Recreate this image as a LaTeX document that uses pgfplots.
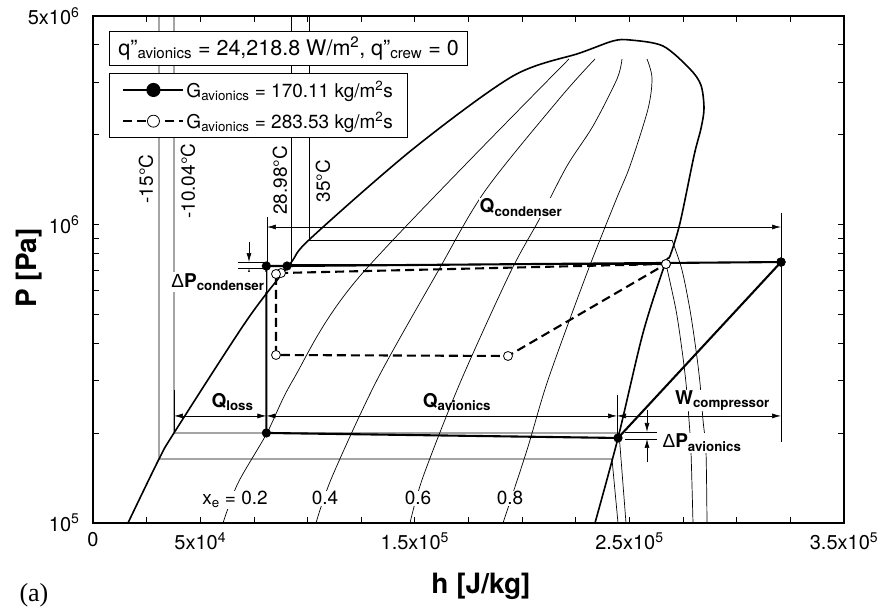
\documentclass[border=0pt]{standalone}
\usepackage{fontspec}
\setmainfont{TeX Gyre Heros}
\newfontfamily\seriffont{Liberation Serif}
\newfontfamily\symfont{Liberation Sans}
\usepackage{pgfplots}
\pgfplotsset{compat=1.18}
\usetikzlibrary{arrows.meta}
\newcommand{\sub}[1]{\textsubscript{#1}}
\newcommand{\sps}[1]{\textsuperscript{#1}}
\newcommand{\DP}{{\symfont\mdseries Δ}P}
\tikzset{
  dim/.style={black, line width=0.7pt, {Latex[length=9pt,width=5pt]}-{Latex[length=9pt,width=5pt]}},
  arr/.style={black, line width=0.7pt, -{Latex[length=9pt,width=5pt]}},
  ext/.style={black, line width=0.7pt},
}
\pgfplotsset{thinl/.style={black, line width=0.7pt, forget plot}}
\begin{document}
\begin{tikzpicture}
\useasboundingbox (-93pt,-85pt) rectangle (789pt,523pt);
\begin{axis}[
  at={(0pt,0pt)}, anchor=south west,
  scale only axis, width=751pt, height=507pt,
  clip=false,
  xmin=0, xmax=350000, ymode=log, ymin=1e5, ymax=5e6,
  axis line style={line width=1.3pt},
  tick style={black, line width=0.8pt},
  minor tick style={black, line width=0.8pt},
  tick align=inside,
  major tick length=6pt, minor tick length=6pt,
  scaled x ticks=false,
  xtick={0,25000,...,350000},
  xticklabels={0,,5x10\sps{4},,,,1.5x10\sps{5},,,,2.5x10\sps{5},,,,3.5x10\sps{5}},
  ytick={1e5,1e6,5e6},
  yticklabels={10\sps{5},10\sps{6},5x10\sps{6}},
  minor ytick={2e5,3e5,4e5,5e5,6e5,7e5,8e5,9e5,2e6,3e6,4e6},
  ticklabel style={font=\fontsize{20}{24}\selectfont},
  xticklabel style={yshift=-6pt},
  yticklabel style={xshift=-10pt},
  legend style={at={(rel axis cs:0.0213,0.8876)}, anchor=north west, draw=black, line width=0.8pt, fill=white,
    font=\fontsize{19}{22}\selectfont, inner xsep=13pt, inner ysep=6pt, row sep=10pt, cells={anchor=west}},
  legend image code/.code={\draw[#1, mark=none] (0pt,0pt) -- (60pt,0pt); \draw[#1, mark size=6pt] plot coordinates {(30pt,0pt)};},
]
% saturation dome
\addplot[black, line width=1.6pt, smooth, forget plot] coordinates {
(16311,1e5) (30759,1.638e5) (37749,2.003e5) (71770,4.788e5) (91810,7.378e5) (101131,8.949e5)
(149133,1.792e6) (195737,3.147e6) (226961,3.758e6) (242341,4.123e6) (250263,4.155e6) (265643,3.967e6)
(278226,3.321e6) (283352,2.93e6) (284750,2.45e6) (283352,2.10e6) (280090,1.70e6) (273565,1.012e6)
(268905,7.847e5) (266575,7.378e5) (256322,4.332e5) (244671,1.927e5) (233952,1e5)};
% quality lines
\addplot[thinl, smooth] coordinates {(221835,3.589e6) (124433,6.725e5) (93208,3.014e5) (81091,2.003e5) (67576,1.361e5) (60585,1e5)};
\addplot[thinl, smooth] coordinates {(233952,3.589e6) (217641,2.656e6) (182688,1.296e6) (160318,6.882e5) (132355,3.014e5) (111384,1.426e5) (103927,1e5)};
\addplot[thinl, smooth] coordinates {(246535,3.589e6) (244205,3.075e6) (233020,2.139e6) (220903,1.572e6) (208320,1.052e6) (194339,6.882e5) (171037,2.945e5) (153793,1.426e5) (147735,1e5)};
\addplot[thinl, smooth] coordinates {(258186,3.589e6) (260516,3.099e6) (258652,2.439e6) (250263,1.572e6) (243739,1.209e6) (230224,6.882e5) (212048,3.014e5) (202261,1.756e5) (191076,1e5)};
% isotherms
\addplot[thinl] coordinates {(30759,5e6) (30759,1.638e5) (241875,1.638e5) (244671,1e5)};
\addplot[thinl] coordinates {(37749,5e6) (37749,2.003e5) (245137,2.003e5) (248399,1e5)};
\addplot[thinl] coordinates {(92276,5e6) (92276,7.378e5) (267041,7.378e5)};
\addplot[thinl, smooth] coordinates {(267041,7.378e5) (271701,5.172e5) (274498,3.799e5) (276362,2.945e5) (277760,2.214e5) (278692,1.729e5) (279624,1e5)};
\addplot[thinl] coordinates {(100665,5e6) (100665,8.878e5) (269837,8.878e5)};
\addplot[thinl, smooth] coordinates {(269837,8.878e5) (274498,7.042e5) (278226,5.172e5) (281022,3.799e5) (282886,2.945e5) (284284,2.214e5) (285683,1.729e5) (286149,1e5)};
% dimension lines
\draw[ext] (axis cs:81091,1.060e6) -- (axis cs:81091,7.264e5);
\draw[ext] (axis cs:320636,1.094e6) -- (axis cs:320636,1.868e5);
\draw[dim] (axis cs:81091,9.815e5) -- (axis cs:320636,9.815e5);
\draw[ext] (axis cs:37749,2.791e5) -- (axis cs:37749,2.003e5);
\draw[ext] (axis cs:244205,2.685e5) -- (axis cs:244205,1.927e5);
\draw[dim] (axis cs:37749,2.284e5) -- (axis cs:80800,2.284e5);
\draw[dim] (axis cs:80800,2.284e5) -- (axis cs:244205,2.284e5);
\draw[dim] (axis cs:244205,2.284e5) -- (axis cs:320636,2.284e5);
\draw[ext] (axis cs:67576,7.49e5) -- (axis cs:80160,7.49e5);
\draw[ext] (axis cs:67576,7.153e5) -- (axis cs:80160,7.153e5);
\draw[arr] (axis cs:72702,8.744e5) -- (axis cs:72702,7.49e5);
\draw[arr] (axis cs:72702,6.422e5) -- (axis cs:72702,7.153e5);
\draw[ext] (axis cs:247933,2.018e5) -- (axis cs:262847,2.018e5);
\draw[ext] (axis cs:247933,1.912e5) -- (axis cs:262847,1.912e5);
\draw[arr] (axis cs:258186,2.391e5) -- (axis cs:258186,2.018e5);
\draw[arr] (axis cs:258186,1.601e5) -- (axis cs:258186,1.912e5);
% cycles
\addplot[black, line width=2.1pt, mark=*, mark size=3.5pt, mark options={solid, fill=black}] coordinates {
(320636,7.49e5) (90412,7.264e5) (80800,7.264e5) (80800,2.003e5) (244671,1.927e5) (320636,7.49e5)};
\addlegendentry{G\sub{avionics} = 170.11 kg/m\sps{2}s}
\addplot[black, line width=2.1pt, dash pattern=on 9pt off 5pt, mark=*, mark size=4.5pt, mark options={solid, fill=white, line width=0.8pt}] coordinates {
(267041,7.378e5) (87616,6.882e5) (85285,6.830e5) (85285,3.656e5) (193407,3.628e5) (267041,7.378e5)};
\addlegendentry{G\sub{avionics} = 283.53 kg/m\sps{2}s}
% labels
\node[font=\bfseries\fontsize{19}{22}\selectfont, fill=white, inner sep=1pt, anchor=base] at (axis cs:199465,1.094e6) {Q\sub{condenser}};
\node[font=\bfseries\fontsize{19}{22}\selectfont, inner sep=1pt, anchor=base] at (axis cs:65013,2.447e5) {Q\sub{loss}};
\node[font=\bfseries\fontsize{19}{22}\selectfont, inner sep=1pt, anchor=base] at (axis cs:169639,2.447e5) {Q\sub{avionics}};
\node[font=\bfseries\fontsize{19}{22}\selectfont, fill=white, inner sep=1pt, anchor=base] at (axis cs:293372,2.486e5) {W\sub{compressor}};
\node[font=\bfseries\fontsize{19}{22}\selectfont, fill=white, inner sep=1pt, anchor=base] at (axis cs:283818,1.784e5) {\DP\sub{avionics}};
\node[font=\bfseries\fontsize{19}{22}\selectfont, fill=white, inner sep=1pt, anchor=base] at (axis cs:58255,6.177e5) {\DP\sub{condenser}};
\node[font=\fontsize{19}{22}\selectfont, fill=white, inner sep=1pt, anchor=base] at (axis cs:66177,1.149e5) {x\sub{e} = 0.2};
\node[font=\fontsize{19}{22}\selectfont, fill=white, inner sep=1pt, anchor=base] at (axis cs:108121,1.149e5) {0.4};
\node[font=\fontsize{19}{22}\selectfont, fill=white, inner sep=1pt, anchor=base] at (axis cs:151463,1.149e5) {0.6};
\node[font=\fontsize{19}{22}\selectfont, fill=white, inner sep=1pt, anchor=base] at (axis cs:194339,1.149e5) {0.8};
\node[font=\fontsize{19}{22}\selectfont, rotate=90, anchor=base] at (axis cs:27962,1.421e6) {-15°C};
\node[font=\fontsize{19}{22}\selectfont, rotate=90, anchor=base] at (axis cs:47536,1.397e6) {-10.04°C};
\node[font=\fontsize{19}{22}\selectfont, rotate=90, anchor=base] at (axis cs:90412,1.405e6) {28.98°C};
\node[font=\fontsize{19}{22}\selectfont, rotate=90, anchor=base] at (axis cs:110451,1.40e6) {35°C};
\node[font=\fontsize{21.5}{25}\selectfont, draw=black, line width=0.8pt, fill=white, anchor=north west, inner xsep=9pt, inner ysep=5.5pt] at (rel axis cs:0.0213,0.9704) {q”\sub{avionics} = 24,218.8 W/m\sps{2}, q”\sub{crew} = 0};
% axis labels
\node[font=\bfseries\fontsize{28}{32}\selectfont, anchor=base] at (rel axis cs:0.5166,-0.1381) {h [J/kg]};
\node[font=\bfseries\fontsize{28}{32}\selectfont, rotate=90, anchor=base] at (rel axis cs:-0.0746,0.503) {P [Pa]};
\node[font=\seriffont\fontsize{26}{30}\selectfont, anchor=base] at (rel axis cs:-0.0786,-0.1558) {(a)};
\end{axis}
\end{tikzpicture}
\end{document}
